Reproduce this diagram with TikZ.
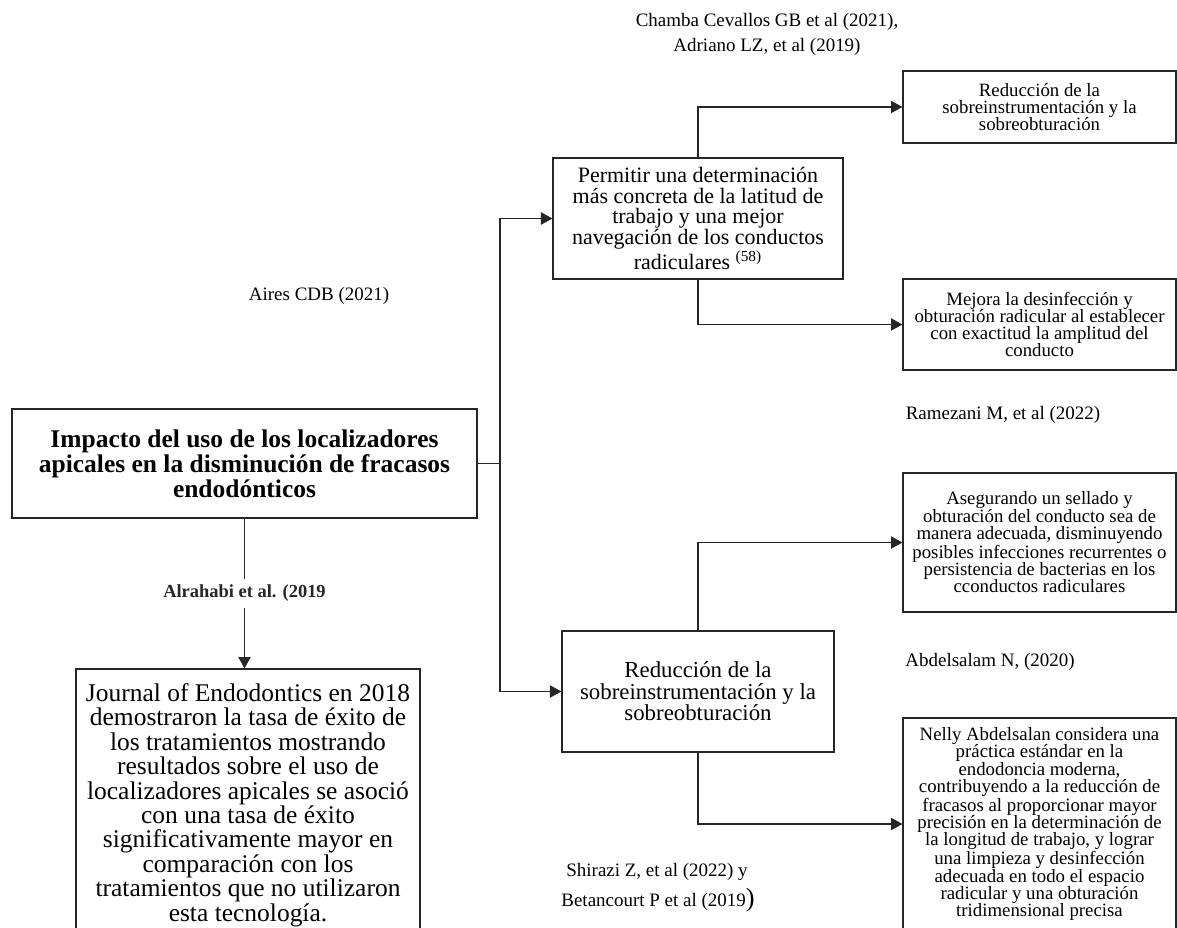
\documentclass[tikz,border=0pt]{standalone}
\usepackage{fontspec}
\setmainfont{Liberation Serif}
\usetikzlibrary{arrows.meta,positioning,calc}
\definecolor{frame}{rgb}{0.15, 0.15, 0.15}

\begin{document}
\begin{tikzpicture}[x=0.02cm, y=-0.02cm,
		arrow/.style={-{Triangle[length=6.5pt,width=7pt]}, line width=0.6pt, color=frame},
		link/.style={line width=0.6pt, color=frame},
		box/.style={draw=frame, line width=0.7pt, align=center, inner sep=2pt},
		smallBox/.style={box, minimum width=5.46cm, font=\fontsize{10.7}{9.8}\selectfont},
		midBox/.style={box, font=\fontsize{13}{12.2}\selectfont},
		cite/.style={font=\fontsize{10.8}{12}\selectfont}]
		
		\useasboundingbox (0,0) rectangle (1177,927);
		\clip (0,0) rectangle (1177,927);
		
		% left side
		\node [box, minimum width=9.3cm, minimum height=2.18cm, font=\fontsize{14.5}{13}\selectfont\bfseries] (main) at (244.5, 463.5)
			{Impacto del uso de los localizadores\\apicales en la disminución de fracasos\\endodónticos};
		\node [box, minimum width=6.88cm, minimum height=5.44cm, font=\fontsize{14.5}{13.9}\selectfont] (journal) at (248, 805)
			{Journal of Endodontics en 2018\\demostraron la tasa de éxito de\\los tratamientos mostrando\\resultados sobre el uso de\\localizadores apicales se asoció\\con una tasa de éxito\\significativamente mayor en\\comparación con los\\tratamientos que no utilizaron\\esta tecnología.};
		
		% middle column
		\node [midBox, minimum width=5.8cm, minimum height=2.42cm, font=\fontsize{12.5}{11.7}\selectfont] (permitir) at (698, 218.5)
			{Permitir una determinación\\más concreta de la latitud de\\trabajo y una mejor\\navegación de los conductos\\radiculares \textsuperscript{(58)}};
		\node [midBox, minimum width=5.44cm, minimum height=2.42cm] (reduccion) at (698, 691.5)
			{Reducción de la\\sobreinstrumentación y la\\sobreobturación};
		
		% right column
		\node [smallBox, minimum height=1.44cm] (reduc1) at (1039.5, 107)
			{Reducción de la\\sobreinstrumentación y la\\sobreobturación};
		\node [smallBox, minimum height=1.82cm] (mejora) at (1039.5, 324.5)
			{Mejora la desinfección y\\obturación radicular al establecer\\con exactitud la amplitud del\\conducto};
		\node [smallBox, minimum height=2.78cm] (asegurando) at (1039.5, 542.5)
			{Asegurando un sellado y\\obturación del conducto sea de\\manera adecuada, disminuyendo\\posibles infecciones recurrentes o\\persistencia de bacterias en los\\cconductos radiculares};
		\node [smallBox, minimum height=4.24cm] (nelly) at (1039.5, 824)
			{Nelly Abdelsalan considera una\\práctica estándar en la\\endodoncia moderna,\\contribuyendo a la reducción de\\fracasos al proporcionar mayor\\precisión en la determinación de\\la longitud de trabajo, y lograr\\una limpieza y desinfección\\adecuada en todo el espacio\\radicular y una obturación\\tridimensional precisa};
		
		% citations
		\node [cite] (chamba) at (767, 22) {Chamba Cevallos GB et al (2021),};
		\node [cite] (adriano) at (767, 47) {Adriano LZ, et al (2019)};
		\node [cite] (aires) at (319, 296) {Aires CDB (2021)};
		\node [cite] (ramezani) at (1003, 415) {Ramezani M, et al (2022)};
		\node [cite] (abdelsalam) at (990, 662) {Abdelsalam N, (2020)};
		\node [cite] (shirazi) at (657, 872) {Shirazi Z, et al (2022) y};
		\node [cite] (betancourt) at (658, 900) {Betancourt P et al (2019{\fontsize{15}{15}\selectfont )}};
		
		\coordinate (hub) at (500, 463.5);
		
		\draw [link] (main.east) -- (hub);
		\draw [arrow] (hub) |- (permitir.west);
		\draw [arrow] (hub) |- (reduccion.west);
		
		\draw [arrow] (main.south) -- node [cite, fill=white, font=\fontsize{10.5}{12}\selectfont\bfseries] (alrahabi) {Alrahabi et al. (2019} (main.south |- journal.north);
		
		\draw [arrow] (permitir.north) |- (reduc1.west);
		\draw [arrow] (permitir.south) |- (mejora.west);
		\draw [arrow] (reduccion.north) |- (asegurando.west);
		\draw [arrow] (reduccion.south) |- (nelly.west);
	\end{tikzpicture}
\end{document}
